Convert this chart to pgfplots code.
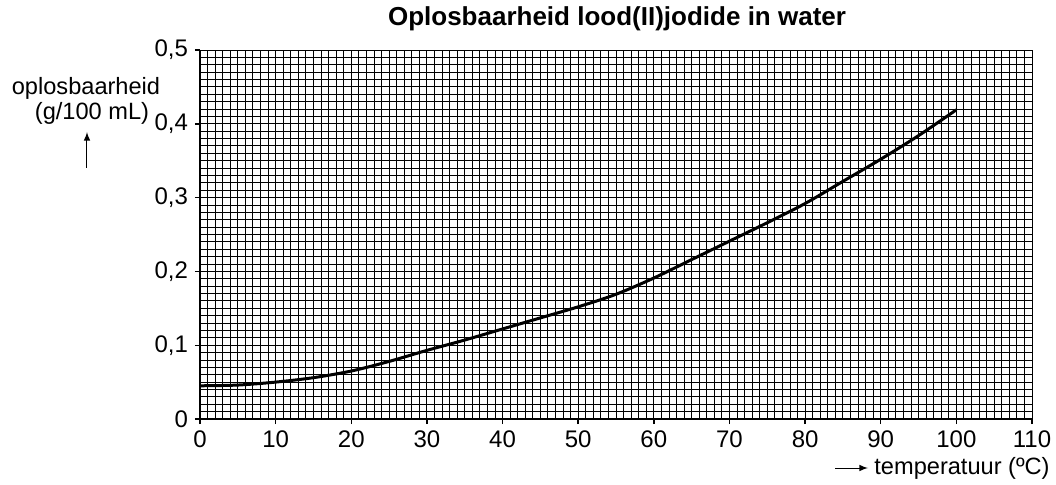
\documentclass[border=0pt]{standalone}
\usepackage{pgfplots}
\pgfplotsset{compat=1.18}
\usepackage{fontspec}
\setmainfont{Liberation Sans}
\begin{document}
\begin{tikzpicture}
\useasboundingbox (-100bp,-33bp) rectangle (428bp,209.5bp);
\begin{axis}[
  at={(0,0)}, anchor=south west,
  scale only axis, width=416bp, height=184.5bp,
  xmin=0, xmax=110, ymin=0, ymax=0.5,
  xtick={0,10,...,110}, ytick={0,0.1,...,0.5},
  minor x tick num=9, minor y tick num=9,
  grid=both,
  major grid style={black, line width=0.45bp},
  minor grid style={black, line width=0.45bp},
  axis x line=bottom, axis y line=left,
  axis line style={-, black, line width=0.9bp},
  tick align=outside,
  major tick length=2.5bp, minor tick length=0pt,
  tick style={black, line width=0.7bp},
  /pgf/number format/assume math mode=true,
  /pgf/number format/use comma,
  yticklabel style={/pgf/number format/fixed, /pgf/number format/precision=1, font=\fontsize{12bp}{14bp}\selectfont},
  xticklabel style={font=\fontsize{12bp}{14bp}\selectfont},
  clip=false,
]
\addplot[black, line width=1.5bp, smooth] coordinates {
(0,0.045) (5,0.046) (10,0.050) (15,0.056) (20,0.065) (25,0.078) (30,0.093)
(35,0.107) (40,0.122) (45,0.137) (50,0.152) (55,0.169) (60,0.191) (65,0.216)
(70,0.241) (75,0.266) (80,0.292) (85,0.322) (90,0.352) (95,0.384) (100,0.419)
};
\end{axis}
\node[font=\fontsize{13bp}{15bp}\selectfont\bfseries] at (208.5bp,200bp) {Oplosbaarheid lood(II)jodide in water};
\node[font=\fontsize{11.8bp}{14bp}\selectfont] at (-57bp,165.5bp) {oplosbaarheid};
\node[font=\fontsize{11.8bp}{14bp}\selectfont] at (-54bp,153bp) {(g/100 mL)};
\draw[-latex, line width=0.5bp] (-56.5bp,125.5bp) -- (-56.5bp,143.5bp);
\node[font=\fontsize{11.8bp}{14bp}\selectfont, anchor=east, inner sep=0pt] at (425bp,-24.5bp) {temperatuur (ºC)};
\draw[-latex, line width=0.5bp] (317.5bp,-24.5bp) -- (334bp,-24.5bp);
\end{tikzpicture}
\end{document}
